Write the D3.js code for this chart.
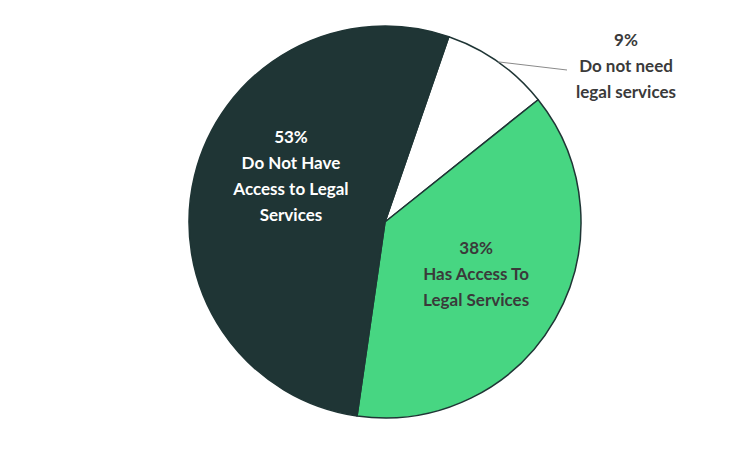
<!DOCTYPE html>
<html><head><meta charset="utf-8">
<script src="https://cdn.jsdelivr.net/npm/d3@7"></script>
<style>body{margin:0;background:#fff}svg{display:block}</style>
</head><body>
<svg id="c" width="735" height="449"></svg>
<script>
const categories = ["Do not need legal services", "Has Access To Legal Services", "Do Not Have Access to Legal Services"];
const values = [9, 38, 53];
const labelLines = [["9%", "Do not need", "legal services"], ["38%", "Has Access To", "Legal Services"], ["53%", "Do Not Have", "Access to Legal", "Services"]];
const colors = ["#ffffff", "#47d682", "#1f3535"];
const textColors = ["#3a3a3a", "#3a3a3a", "#ffffff"];

const W = 735, H = 449, cx = 385, cy = 222, R = 196;
const svg = d3.select("#c");
const g = svg.append("g").attr("transform", `translate(${cx},${cy})`);
const start = 19 * Math.PI / 180;
const pie = d3.pie().sort(null).value(d => d).startAngle(start).endAngle(start + 2 * Math.PI);
const arcs = pie(values);
const arc = d3.arc().innerRadius(0).outerRadius(R);

g.selectAll("path.s").data(arcs).enter().append("path")
  .attr("d", arc).attr("fill", (d, i) => colors[i])
  .attr("stroke", "#1f3535").attr("stroke-width", 1.5).attr("stroke-linejoin", "round");

// label placement
const inner = d3.arc().innerRadius(105).outerRadius(105);
const fs = 17, lh = 26;
arcs.forEach((a, i) => {
  let x, y;
  if (i === 0) {
    // outside label with leader line
    const p = d3.arc().innerRadius(R).outerRadius(R).centroid(a);
    x = 626 - cx; y = 66 - cy;
    g.append("path").attr("d", `M${p[0]},${p[1]}L${x - 59},${y + 4}`)
      .attr("stroke", "#8a8a8a").attr("stroke-width", 1).attr("fill", "none");
  } else if (i === 1) {
    const c = inner.centroid(a); x = c[0]; y = c[1];
  } else {
    const c = inner.centroid(a); x = c[0] + 8; y = c[1] - 21;
  }
  const n = labelLines[i].length;
  const t = g.append("text").attr("text-anchor", "middle")
    .attr("font-family", "Lato, 'Open Sans', sans-serif").attr("font-weight", "bold")
    .attr("font-size", fs).attr("fill", textColors[i]);
  labelLines[i].forEach((s, k) => {
    t.append("tspan").attr("x", x).attr("y", y + (k - (n - 1) / 2) * lh).attr("dy", "0.35em").text(s);
  });
});
</script>
</body></html>
